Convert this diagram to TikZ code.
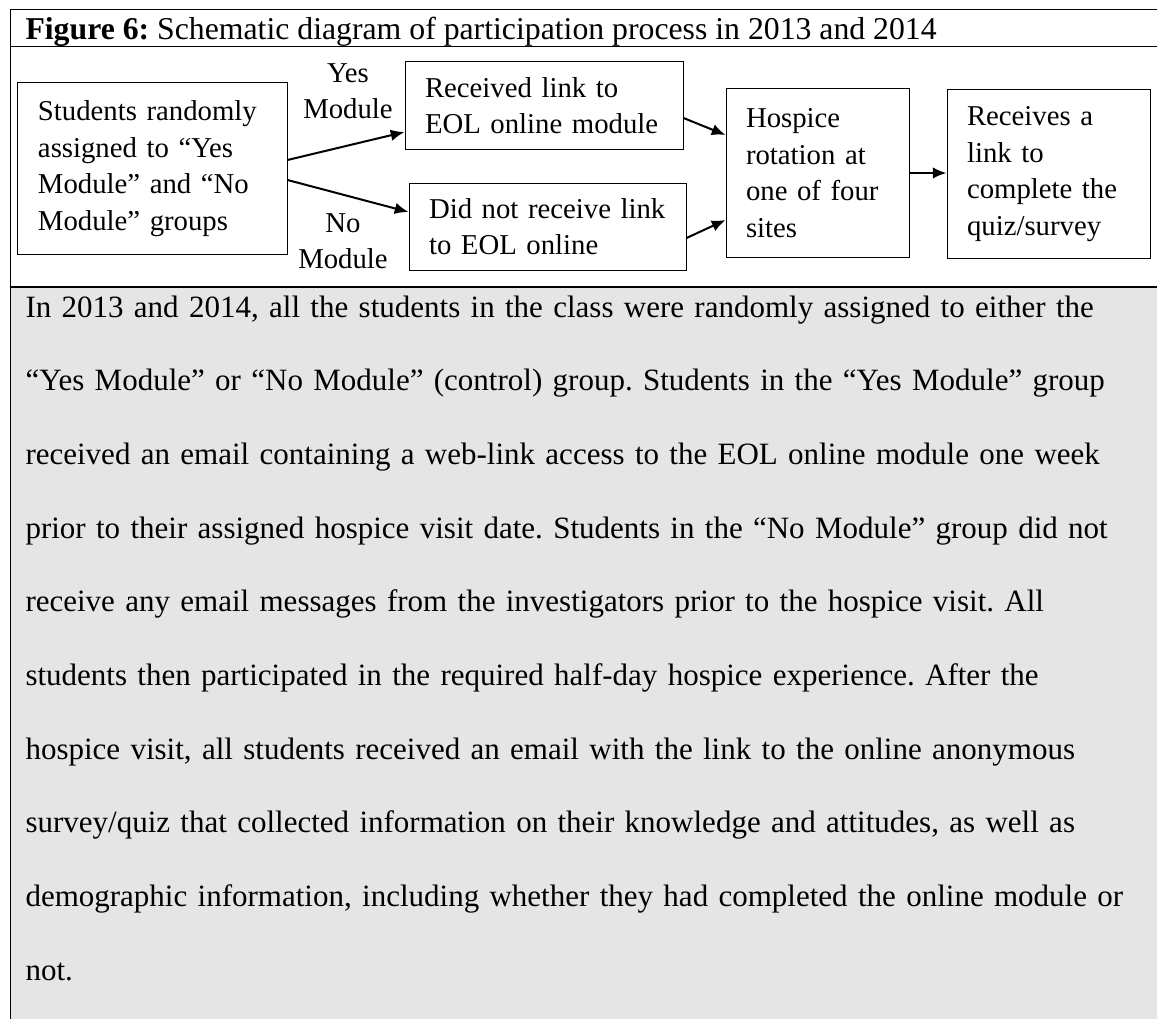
\documentclass[tikz,border=0pt]{standalone}
\usepackage{fontspec}
\setmainfont{Liberation Serif}
\usepackage{tikz}
\usetikzlibrary{arrows.meta,positioning,shapes}
\frenchspacing
\hyphenpenalty=10000
\exhyphenpenalty=10000

\begin{document}
\begin{tikzpicture}[x=0.4pt,y=-0.4pt,>={Latex[length=5.5pt,width=4.6pt]}]
\tikzstyle{every node}=[font=\fontsize{11.5}{14.6}\selectfont]
\tikzstyle{box}=[draw,line width=0.4pt,shape=rectangle,align=left,inner xsep=8pt,inner ysep=0pt]
\tikzstyle{lab}=[align=center,inner sep=0pt]
\tikzstyle{arr}=[->,line width=0.8pt]

\useasboundingbox (0,0) rectangle (1157,1019);

% frame and shaded text cell
\fill[black!10] (10,287) rectangle (1157,1019);
\draw[line width=0.4pt] (1157,9.5) -- (10,9.5) -- (10,1019);
\draw[line width=0.4pt] (10,47) -- (1157,47);
\draw[line width=1pt] (10,287) -- (1157,287);

\node[anchor=base west,inner sep=0pt,font=\fontsize{12.7}{15}\selectfont] (T) at (25,40) {\textbf{Figure 6:} Schematic diagram of participation process in 2013 and 2014};

\node[box] (A) at (152.5,168.5) [minimum width=107.6pt,minimum height=68.4pt,text width=91.6pt] {Students randomly\\assigned to “Yes\\Module” and “No\\Module” groups};
\node[box] (B) at (544,105.5) [minimum width=111.2pt,minimum height=34.8pt,text width=95.2pt] {Received link to\\EOL online module};
\node[box] (C) at (547.5,226.5) [minimum width=110.8pt,minimum height=34.8pt,text width=94.8pt] {Did not receive link\\to EOL online};
\node[box] (D) at (817.5,173) [minimum width=73.2pt,minimum height=67.2pt,text width=57.2pt] {Hospice\\rotation at\\one of four\\sites};
\node[box] (E) at (1048.5,174) [minimum width=81.2pt,minimum height=67.2pt,text width=65.2pt] {Receives a\\link to\\complete the\\quiz/survey};
\node[lab] (Y) at (348,91) {Yes\\Module};
\node[lab] (N) at (343,241) {No\\Module};

\path[arr]
([yshift=3.4pt]A.east) edge ([yshift=-10.6pt]B.west)
([yshift=-4.6pt]A.east) edge ([yshift=5.8pt]C.west)
([yshift=-5pt]B.east) edge ([yshift=15.2pt]D.west)
([yshift=-4.6pt]C.east) edge ([yshift=-18.8pt]D.west)
(D.east) edge (D.east -| E.west)
;

\node[anchor=base west,inner sep=0pt,text width=460pt,align=left,font=\fontsize{12.4}{29.47}\selectfont] (P) at (25,317) {In 2013 and 2014, all the students in the class were randomly assigned to either the\\
“Yes Module” or “No Module” (control) group. Students in the “Yes Module” group\\
received an email containing a web-link access to the EOL online module one week\\
prior to their assigned hospice visit date. Students in the “No Module” group did not\\
receive any email messages from the investigators prior to the hospice visit. All\\
students then participated in the required half-day hospice experience. After the\\
hospice visit, all students received an email with the link to the online anonymous\\
survey/quiz that collected information on their knowledge and attitudes, as well as\\
demographic information, including whether they had completed the online module or\\
not.};
\end{tikzpicture}
\end{document}
